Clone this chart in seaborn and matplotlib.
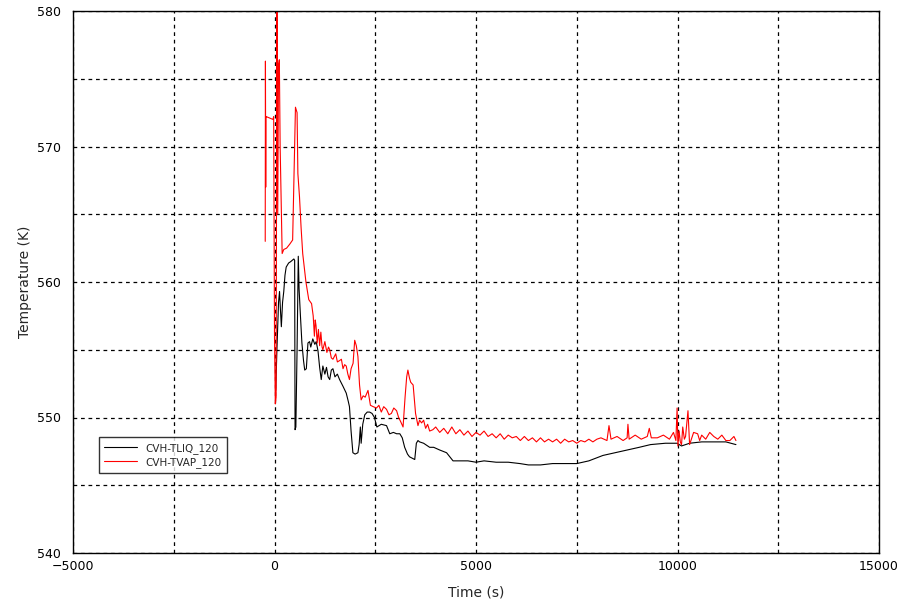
import pandas as pd
import seaborn as sns
import matplotlib.pyplot as plt
from matplotlib.ticker import MultipleLocator

# ---------------------------------------------------------------------------#
# data: (time in s, temperature in K)

tvap_points = [
    (-230, 563.0), (-225, 576.3), (-218, 567.0), (-212, 572.2), (-200, 572.2),
    (-120, 572.1), (-40, 572.0), (-20, 572.2), (0, 556.0), (20, 551.0),
    (40, 551.5), (60, 581.0), (80, 565.0), (100, 576.0), (120, 576.4),
    (140, 570.0), (170, 565.0), (190, 562.1), (230, 562.4), (300, 562.5),
    (380, 562.8), (450, 563.1), (500, 570.0), (520, 572.9), (560, 572.5),
    (580, 568.0), (620, 566.3), (660, 564.0), (700, 562.1), (780, 560.0),
    (850, 558.7), (920, 558.4), (960, 557.5), (990, 556.0), (1010, 557.2),
    (1030, 556.8), (1060, 555.5), (1090, 556.5), (1120, 555.3), (1150, 556.3),
    (1180, 555.2), (1200, 555.0), (1250, 555.6), (1300, 554.8), (1340, 555.2),
    (1370, 555.0), (1410, 554.4), (1450, 554.3), (1520, 554.7), (1560, 554.1),
    (1615, 554.2), (1660, 554.3), (1700, 553.6), (1740, 553.9), (1780, 553.8),
    (1820, 553.2), (1860, 552.8), (1900, 553.6), (1950, 554.0), (1990, 555.7),
    (2030, 555.3), (2070, 554.5), (2110, 552.4), (2150, 551.3), (2200, 551.6),
    (2250, 551.5), (2320, 552.0), (2380, 550.9), (2450, 550.8), (2530, 550.7),
    (2590, 550.9), (2650, 550.4), (2710, 550.8), (2780, 550.6), (2840, 550.2),
    (2900, 550.3), (2960, 550.7), (3030, 550.5), (3080, 550.0), (3130, 549.7),
    (3190, 549.3), (3240, 551.5), (3280, 553.0), (3310, 553.5), (3350, 552.9),
    (3380, 552.6), (3440, 552.4), (3480, 551.0), (3500, 550.3), (3560, 549.4),
    (3600, 549.8), (3650, 549.6), (3700, 549.8), (3750, 549.2), (3800, 549.5),
    (3850, 549.0), (3930, 549.1), (4000, 549.3), (4100, 548.9), (4200, 549.2),
    (4300, 548.8), (4400, 549.3), (4500, 548.8), (4600, 549.1), (4700, 548.7),
    (4800, 549.0), (4900, 548.6), (5000, 548.9), (5100, 548.7), (5200, 549.0),
    (5300, 548.6), (5400, 548.8), (5500, 548.5), (5600, 548.8), (5700, 548.4),
    (5800, 548.7), (5900, 548.5), (6000, 548.6), (6100, 548.3), (6200, 548.6),
    (6300, 548.3), (6400, 548.5), (6500, 548.2), (6600, 548.5), (6700, 548.2),
    (6800, 548.4), (6900, 548.2), (7000, 548.4), (7100, 548.1), (7200, 548.4),
    (7300, 548.2), (7400, 548.3), (7500, 548.1), (7600, 548.3), (7700, 548.2),
    (7800, 548.4), (7900, 548.2), (8000, 548.4), (8100, 548.5),
    (8250, 548.3), (8300, 549.4), (8350, 548.4), (8500, 548.6), (8650, 548.3),
    (8750, 548.5), (8770, 549.5), (8800, 548.4), (8950, 548.7), (9100, 548.4),
    (9250, 548.6), (9300, 549.2), (9350, 548.5), (9500, 548.5), (9650, 548.7),
    (9800, 548.4), (9900, 548.9), (9960, 548.3), (9990, 550.7), (10010, 547.9),
    (10040, 549.0), (10070, 548.2), (10100, 548.0), (10130, 549.3),
    (10170, 548.4), (10200, 548.6), (10260, 550.5), (10300, 548.0),
    (10400, 548.9), (10500, 548.8), (10550, 548.3), (10600, 548.7),
    (10700, 548.4), (10800, 548.9), (10900, 548.6), (11000, 548.4),
    (11100, 548.7), (11200, 548.3), (11300, 548.3), (11400, 548.6),
    (11450, 548.3),
]

tliq_points = [
    (30, 552.0), (60, 555.0), (100, 558.5), (125, 559.3), (150, 557.8),
    (170, 556.7), (200, 558.5), (230, 559.3), (260, 560.5), (290, 561.1),
    (350, 561.4), (400, 561.5), (480, 561.7), (500, 561.6), (510, 549.1),
    (530, 549.3), (560, 555.0), (590, 561.9), (610, 559.5), (640, 557.7),
    (680, 555.5), (720, 554.2), (750, 553.5), (790, 553.6), (830, 555.5),
    (870, 555.6), (900, 555.2), (950, 555.8), (1000, 555.4), (1035, 555.6),
    (1080, 554.9), (1120, 553.7), (1160, 552.8), (1200, 553.8), (1250, 553.2),
    (1290, 553.7), (1330, 553.0), (1370, 552.8), (1410, 553.5), (1450, 553.6),
    (1500, 553.0), (1560, 553.2), (1615, 552.8), (1700, 552.3), (1780, 551.8),
    (1830, 551.2), (1860, 550.8), (1900, 549.0), (1945, 547.4), (2000, 547.3),
    (2070, 547.4), (2100, 548.0), (2130, 549.3), (2150, 548.1), (2190, 549.5),
    (2240, 550.2), (2300, 550.4), (2360, 550.4), (2420, 550.3), (2480, 550.0),
    (2540, 549.3), (2650, 549.5), (2780, 549.4), (2860, 548.8), (2950, 548.9),
    (3030, 548.8), (3110, 548.8), (3170, 548.5), (3230, 547.8), (3300, 547.3),
    (3350, 547.1), (3480, 546.9), (3520, 548.1), (3560, 548.3), (3600, 548.2),
    (3700, 548.1), (3850, 547.8), (3950, 547.8), (4100, 547.6), (4270, 547.4),
    (4430, 546.8), (4600, 546.8), (4800, 546.8), (5000, 546.7), (5200, 546.8),
    (5500, 546.7), (5800, 546.7), (6090, 546.6), (6300, 546.5), (6600, 546.5),
    (6900, 546.6), (7200, 546.6), (7500, 546.6), (7800, 546.8), (8150, 547.2),
    (8450, 547.4), (8750, 547.6), (9050, 547.8), (9330, 548.0), (9700, 548.1),
    (9990, 548.1), (10100, 547.9), (10300, 548.1), (10600, 548.2),
    (10900, 548.2), (11200, 548.2), (11450, 548.0),
]

series_names = ["CVH-TLIQ_120", "CVH-TVAP_120"]
series_colors = ["black", "red"]

# ---------------------------------------------------------------------------#

frames = []
for name, pts in zip(series_names, [tliq_points, tvap_points]):
    part = pd.DataFrame(pts, columns=["time", "temp"])
    part["series"] = name
    frames.append(part)
df = pd.concat(frames, ignore_index=True)

sns.set_style("white")
plt.rcParams["font.family"] = ["DejaVu Sans"]

fig = plt.figure(figsize=(9.15, 6.05), dpi=100)
ax = fig.add_axes([73 / 915, 1 - 553 / 605, 806 / 915, 542 / 605])

sns.lineplot(data=df, x="time", y="temp", hue="series", hue_order=series_names,
             palette=series_colors, estimator=None, sort=False, linewidth=0.8,
             ax=ax)

ax.set_xlim(-5000, 15000)
ax.set_ylim(540, 580)
ax.xaxis.set_major_locator(MultipleLocator(5000))
ax.xaxis.set_minor_locator(MultipleLocator(2500))
ax.yaxis.set_major_locator(MultipleLocator(10))
ax.yaxis.set_minor_locator(MultipleLocator(5))
ax.grid(True, which="both", color="black", linestyle=(0, (3, 3)), linewidth=0.9)
ax.tick_params(which="both", length=0, labelsize=9, colors="black")
ax.tick_params(axis="y", pad=9)
ax.tick_params(axis="x", pad=5)
for s in ax.spines.values():
    s.set_color("black")
    s.set_linewidth(1)

ax.set_xlabel("Time (s)", fontsize=10, labelpad=9)
ax.set_ylabel("Temperature (K)", fontsize=10, labelpad=3)

leg = ax.legend(loc="lower left", bbox_to_anchor=(0.032, 0.148), fontsize=7.5,
                frameon=True, fancybox=False, handlelength=3.2,
                borderpad=0.5, labelspacing=0.3, borderaxespad=0)
leg.get_frame().set_edgecolor("black")
leg.get_frame().set_linewidth(1)
leg.set_title(None)

fig.savefig("out.png", dpi=100)
